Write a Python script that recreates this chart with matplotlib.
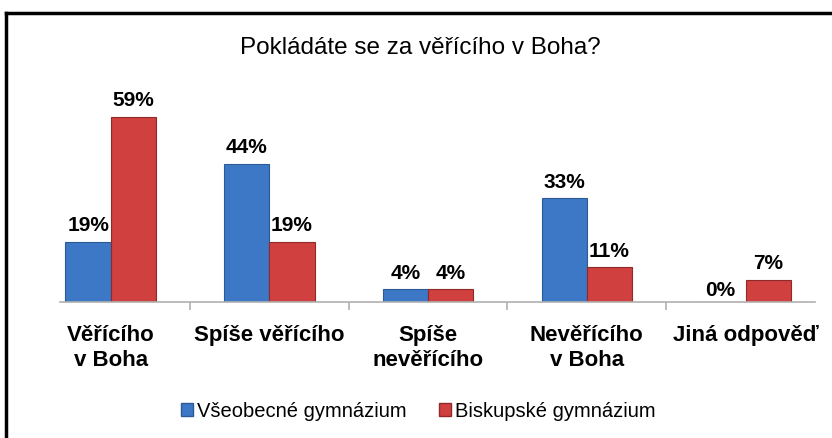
import matplotlib.pyplot as plt
import numpy as np
from matplotlib.lines import Line2D
from matplotlib.patches import Patch

plt.rcParams['font.family'] = ['Liberation Sans', 'DejaVu Sans']

categories = ["Věřícího\nv Boha", "Spíše věřícího", "Spíše\nnevěřícího", "Nevěřícího\nv Boha", "Jiná odpověď"]
vseobecne = [19, 44, 4, 33, 0]
biskupske = [59, 19, 4, 11, 7]
series_names = ["Všeobecné gymnázium", "Biskupské gymnázium"]

BLUE = "#3C78C6"
RED = "#D0403F"

fig = plt.figure(figsize=(8.32, 4.39), dpi=100)
ax = fig.add_axes([0.072, 0.31, 0.908, 0.50])

x = np.arange(len(categories))
w = 0.285
b1 = ax.bar(x - w / 2, vseobecne, w, color=BLUE, edgecolor="#2C5A96", linewidth=0.8)
b2 = ax.bar(x + w / 2, biskupske, w, color=RED, edgecolor="#8E2A2A", linewidth=0.8)

for bars, vals in ((b1, vseobecne), (b2, biskupske)):
    for rect, v in zip(bars, vals):
        if v == 0:
            ax.text(rect.get_x() + rect.get_width() / 2 - 0.02, 1.0, f"{v}%",
                    ha="center", va="bottom", fontsize=15, fontweight="bold")
        else:
            ax.text(rect.get_x() + rect.get_width() / 2, v + 2.5, f"{v}%",
                    ha="center", va="bottom", fontsize=15, fontweight="bold")

ax.set_xlim(-0.32, len(categories) - 0.56)
ax.set_ylim(0, 70)
ax.set_yticks([])
for s in ("top", "right", "left"):
    ax.spines[s].set_visible(False)
ax.spines["bottom"].set_color("#b0b0b0")
ax.spines["bottom"].set_linewidth(1.2)

ax.set_xticks(x)
ax.set_xticklabels(categories, fontsize=16, fontweight="bold", linespacing=1.22, va="top")
ax.tick_params(axis="x", length=0, pad=16)
ax.set_xticks(x[:-1] + 0.5, minor=True)
ax.tick_params(axis="x", which="minor", length=6, color="#b0b0b0", width=1.2)

fig.text(0.505, 0.89, "Pokládáte se za věřícího v Boha?", ha="center", va="center", fontsize=17.5)

handles = [Patch(facecolor=BLUE, edgecolor="#2C5A96"), Patch(facecolor=RED, edgecolor="#8E2A2A")]
fig.legend(handles, series_names, loc="center", bbox_to_anchor=(0.503, 0.062), ncol=2,
           frameon=False, fontsize=14.5, handlelength=0.6, handleheight=0.6,
           handletextpad=0.2, columnspacing=1.6)

# chart frame
fig.add_artist(Line2D([6 / 832, 1.0], [1 - 14 / 439, 1 - 14 / 439], color="black", lw=2.5,
                      transform=fig.transFigure))
fig.add_artist(Line2D([6 / 832, 6 / 832], [0.0, 1 - 14 / 439], color="black", lw=2.5,
                      transform=fig.transFigure))

fig.savefig("out.png", dpi=100)
